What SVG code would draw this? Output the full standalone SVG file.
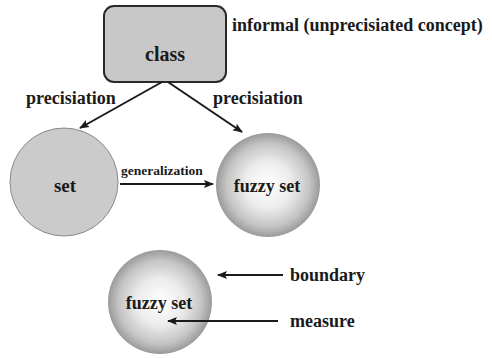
<svg xmlns="http://www.w3.org/2000/svg" width="492" height="358" viewBox="0 0 492 358">
<style>
.conn{stroke:#1a1a1a;stroke-width:2;fill:none}
</style>
<defs>
<radialGradient id="fz" cx="0.5" cy="0.5" r="0.5">
<stop offset="0" stop-color="#ffffff"/>
<stop offset="0.45" stop-color="#ececec"/>
<stop offset="0.8" stop-color="#c4c4c4"/>
<stop offset="1" stop-color="#9a9a9a"/>
</radialGradient>
<marker id="ah" viewBox="0 0 10 10" refX="9" refY="5" markerWidth="5" markerHeight="5" orient="auto" markerUnits="strokeWidth">
<path d="M0,1 L10,5 L0,9 L2,5 Z" fill="#1a1a1a"/>
</marker>
</defs>
<rect width="492" height="358" fill="#ffffff"/>
<g id="class">
<rect x="104" y="6" width="122" height="76" rx="10" fill="#c8c8c8" stroke="#2a2a2a" stroke-width="2"/>
<text x="165" y="61" font-family="Liberation Serif" font-weight="bold" fill="#1a1a1a" font-size="20" text-anchor="middle">class</text>
</g>
<g id="informal">
<text x="232" y="31" font-family="Liberation Serif" font-weight="bold" fill="#1a1a1a" font-size="18">informal (unprecisiated concept)</text>
</g>
<g id="set">
<circle cx="64" cy="182" r="54" fill="#cbcbcb" stroke="#8a8a8a" stroke-width="1"/>
<text x="65" y="192" font-family="Liberation Serif" font-weight="bold" fill="#1a1a1a" font-size="19" text-anchor="middle">set</text>
</g>
<g id="fuzzyset">
<circle cx="268" cy="185" r="52" fill="url(#fz)"/>
<text x="267" y="192" font-family="Liberation Serif" font-weight="bold" fill="#1a1a1a" font-size="18" text-anchor="middle">fuzzy set</text>
</g>
<g id="fuzzyset2">
<circle cx="160" cy="302" r="52" fill="url(#fz)"/>
<text x="159" y="309" font-family="Liberation Serif" font-weight="bold" fill="#1a1a1a" font-size="18" text-anchor="middle">fuzzy set</text>
</g>
<g id="connectors">
<line x1="162" y1="82" x2="80" y2="128" class="conn" marker-end="url(#ah)"/>
<line x1="168" y1="82" x2="242" y2="132" class="conn" marker-end="url(#ah)"/>
<line x1="120" y1="184" x2="213" y2="184" class="conn" marker-end="url(#ah)"/>
<line x1="283" y1="275" x2="218" y2="275" class="conn" marker-end="url(#ah)"/>
<line x1="278" y1="321" x2="168" y2="321" class="conn" marker-end="url(#ah)"/>
</g>
<g id="labels">
<text x="26" y="104" font-family="Liberation Serif" font-weight="bold" fill="#1a1a1a" font-size="18">precisiation</text>
<text x="213" y="104" font-family="Liberation Serif" font-weight="bold" fill="#1a1a1a" font-size="18">precisiation</text>
<text x="121" y="175" font-family="Liberation Serif" font-weight="bold" fill="#1a1a1a" font-size="13.5">generalization</text>
<text x="290" y="281" font-family="Liberation Serif" font-weight="bold" fill="#1a1a1a" font-size="18">boundary</text>
<text x="290" y="327" font-family="Liberation Serif" font-weight="bold" fill="#1a1a1a" font-size="18">measure</text>
</g>
</svg>
